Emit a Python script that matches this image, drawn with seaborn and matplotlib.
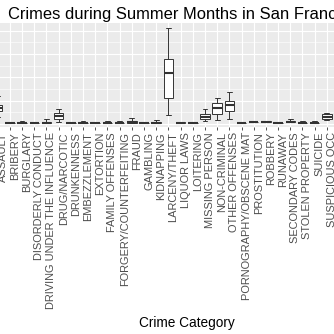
import numpy as np
import pandas as pd
import matplotlib
matplotlib.use("Agg")
import matplotlib.pyplot as plt
import seaborn as sns

# Daily crime counts per category over the summer months: five-number summaries
categories = [
    "ASSAULT", "BRIBERY", "BURGLARY", "DISORDERLY CONDUCT",
    "DRIVING UNDER THE INFLUENCE", "DRUG/NARCOTIC", "DRUNKENNESS",
    "EMBEZZLEMENT", "EXTORTION", "FAMILY OFFENSES", "FORGERY/COUNTERFEITING",
    "FRAUD", "GAMBLING", "KIDNAPPING", "LARCENY/THEFT", "LIQUOR LAWS",
    "LOITERING", "MISSING PERSON", "NON-CRIMINAL", "OTHER OFFENSES",
    "PORNOGRAPHY/OBSCENE MAT", "PROSTITUTION", "ROBBERY", "RUNAWAY",
    "SECONDARY CODES", "STOLEN PROPERTY", "SUICIDE", "SUSPICIOUS OCC",
]
low_whisker = [6, 1, 1, 1, 1, 1.7, 1, 1, 1, 1, 1, 1, 1, 1, 7.5, 1, 1, 2.3, 3.4, 4.0,
               1, 2, 2, 1, 2, 1, 1, 3.2]
q1 = [11.2, 1, 1, 1, 1, 4.0, 1, 1, 1, 1, 1, 1, 1, 1, 21.9, 1, 1, 4.0, 8.3, 11.2,
      1, 2, 2, 1, 2, 1, 1, 4.3]
median = [13.5, 1, 1, 1, 1, 6.9, 1, 1, 1, 1, 1, 2, 1, 1, 43.5, 1, 1, 6.2, 14.0, 16.1,
          1, 2, 2, 1, 2, 1, 1, 6.2]
q3 = [16.1, 1, 1, 1, 2, 9.7, 1, 1, 1, 1, 1, 3, 1, 2, 55.5, 2, 1, 8.3, 17.8, 19.7,
      1, 2, 3, 1, 3, 1, 1, 8.2]
high_whisker = [24, 1, 2.5, 1, 4, 12.6, 1, 2.5, 1, 2.5, 2.5, 5.4, 1, 3.4, 82.1, 2, 1,
                12.6, 22.1, 27.5, 1, 2, 3, 1, 4, 2.5, 2.5, 9.4]

rows = []
for i, cat in enumerate(categories):
    for v in (low_whisker[i], q1[i], median[i], q3[i], high_whisker[i]):
        rows.append({"Crime Category": cat, "Count": v})
df = pd.DataFrame(rows)

sns.set_theme(style="darkgrid", rc={
    "axes.facecolor": "#EBEBEB",
    "grid.color": "white",
    "axes.edgecolor": "white",
})
plt.rcParams["font.family"] = ["Liberation Sans", "DejaVu Sans"]

W = 334.0
fig = plt.figure(figsize=(3.34, 3.34), dpi=100)
fig.patch.set_facecolor("white")

# panel in pixel units (from top-left), wider than the canvas
px_left, px_right = -16.9, 342.7
px_top, px_bottom = 23.0, 127.0
ax = fig.add_axes([px_left / W, (W - px_bottom) / W,
                   (px_right - px_left) / W, (px_bottom - px_top) / W])

sns.boxplot(data=df, x="Crime Category", y="Count", order=categories,
            whis=(0, 100), showfliers=False, color="white",
            linecolor="#333333", linewidth=0.7, width=0.78,
            medianprops=dict(linewidth=1.5, color="#333333"), ax=ax)

ax.set_xlim(-1.2, 28.3)
ax.set_ylim(-2.575, 86.7)
ax.set_yticks([0, 20, 40, 60, 80])
ax.set_yticks([10, 30, 50, 70], minor=True)
ax.set_axisbelow(True)
ax.grid(True, which="major", axis="both", color="white", linewidth=0.85)
ax.grid(True, which="minor", axis="y", color="white", linewidth=0.4)
for s in ax.spines.values():
    s.set_visible(False)

ax.tick_params(axis="x", which="major", length=2.3, width=0.6, color="#333333",
               pad=1.3, labelsize=7.9, labelcolor="#4D4D4D", bottom=True)
ax.tick_params(axis="y", which="both", length=0, labelsize=7.9, labelcolor="#4D4D4D")
for lab in ax.get_xticklabels():
    lab.set_rotation(90)
    lab.set_rotation_mode("anchor")
    lab.set_ha("right")
    lab.set_va("top")

ax.set_ylabel("")
ax.set_xlabel("Crime Category", fontsize=9.8, color="black")
ax.xaxis.label.set_va("baseline")
ax.xaxis.set_label_coords(186.8 / W, 1 - 327.0 / W, transform=fig.transFigure)

fig.text(8.0 / W, 1 - 19.0 / W, "Crimes during Summer Months in San Francisco",
         fontsize=11.9, color="black", ha="left", va="baseline")

fig.savefig("out.png", dpi=100)
